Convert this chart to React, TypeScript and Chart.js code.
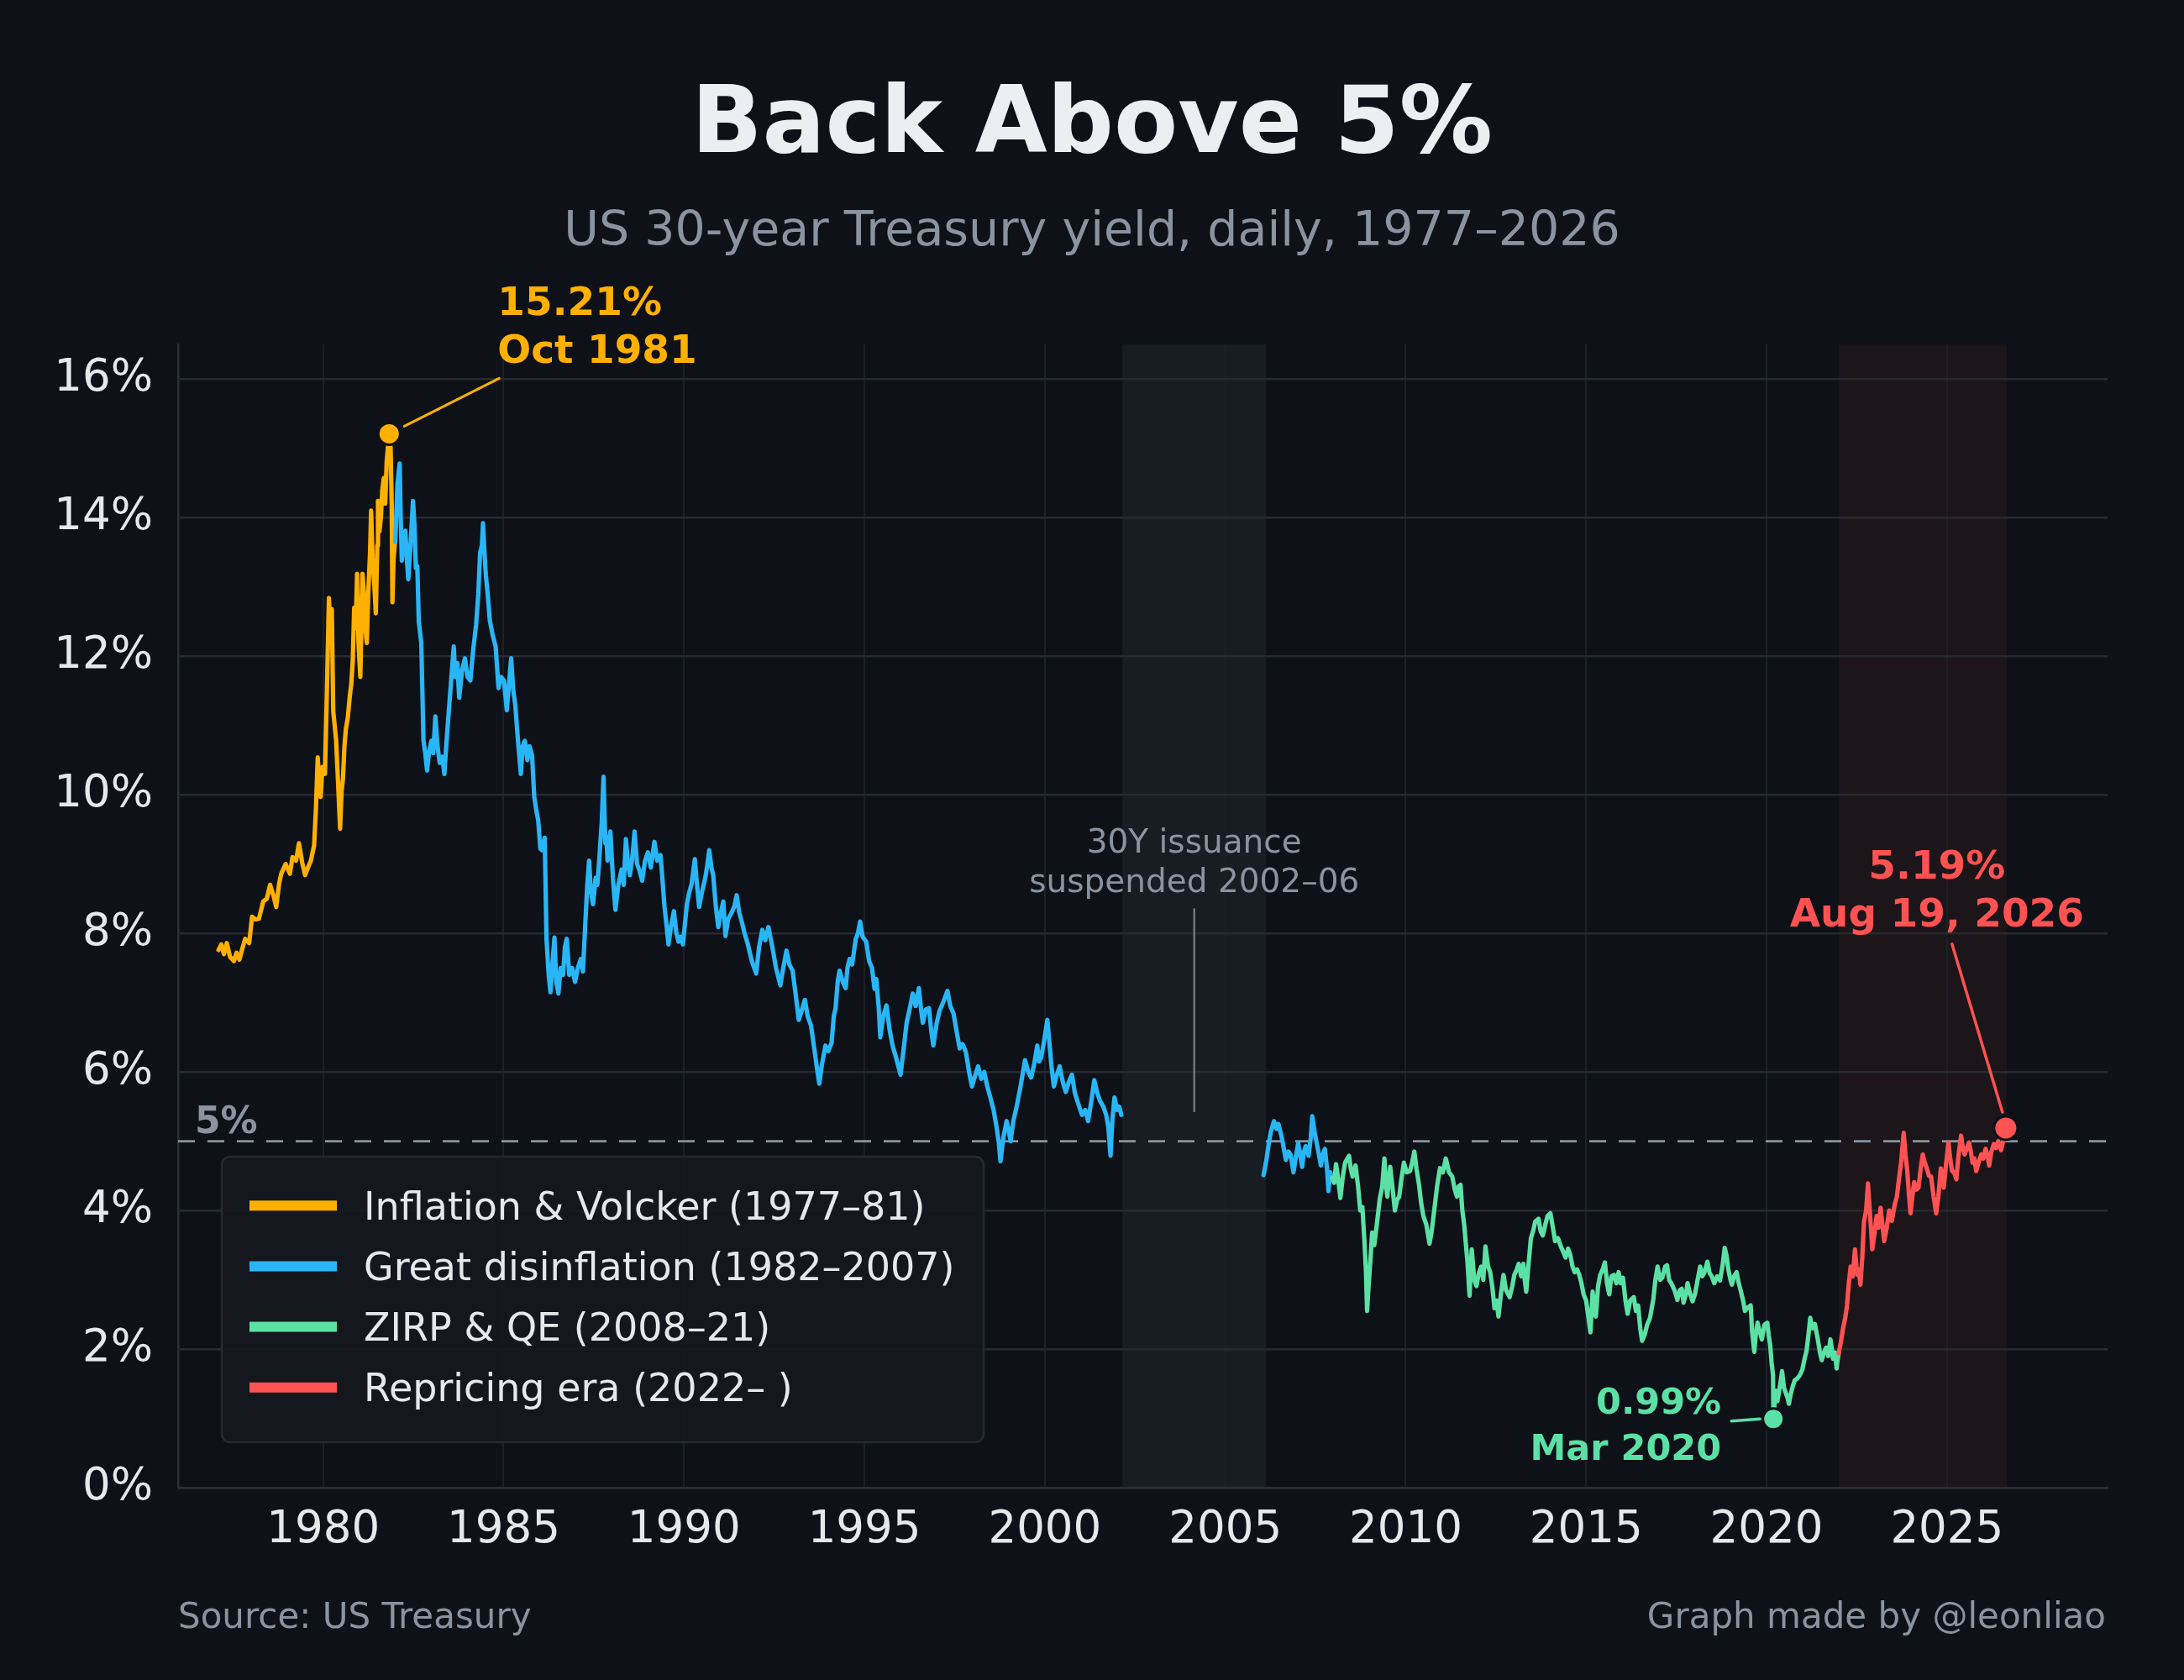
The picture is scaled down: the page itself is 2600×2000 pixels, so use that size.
import React, { useEffect, useRef } from 'react';
import { Chart, registerables } from 'chart.js';

Chart.register(...registerables);

type Pt = [number, number];

// ---------------- DATA ----------------
const volcker: Pt[] = [
  [1977.10, 7.76], [1977.18, 7.84], [1977.25, 7.70], [1977.33, 7.86], [1977.42, 7.66], [1977.53, 7.60],
  [1977.60, 7.72], [1977.68, 7.62], [1977.76, 7.78], [1977.84, 7.92], [1977.95, 7.86], [1978.03, 8.24],
  [1978.12, 8.20], [1978.22, 8.21], [1978.34, 8.46], [1978.44, 8.50], [1978.53, 8.70], [1978.62, 8.55],
  [1978.70, 8.38], [1978.78, 8.72], [1978.84, 8.86], [1978.96, 9.00], [1979.08, 8.86], [1979.15, 9.10],
  [1979.25, 9.05], [1979.33, 9.30], [1979.42, 9.02], [1979.50, 8.84], [1979.58, 8.95], [1979.66, 9.05],
  [1979.75, 9.27], [1979.80, 9.80], [1979.85, 10.54], [1979.90, 10.10], [1979.93, 9.97], [1979.98, 10.40],
  [1980.05, 10.30], [1980.10, 11.40], [1980.16, 12.84], [1980.20, 12.30], [1980.24, 12.68], [1980.28, 11.20],
  [1980.32, 11.00], [1980.36, 10.78], [1980.42, 10.10], [1980.47, 9.51], [1980.51, 10.05], [1980.55, 10.24],
  [1980.59, 10.70], [1980.63, 10.95], [1980.68, 11.10], [1980.74, 11.43], [1980.78, 11.60], [1980.82, 11.92],
  [1980.86, 12.70], [1980.90, 12.40], [1980.94, 13.19], [1980.98, 12.20], [1981.03, 11.70], [1981.06, 12.40],
  [1981.09, 13.19], [1981.13, 12.90], [1981.17, 12.40], [1981.21, 12.19], [1981.25, 12.90], [1981.30, 13.50],
  [1981.33, 14.10], [1981.37, 13.40], [1981.42, 13.00], [1981.46, 12.62], [1981.50, 13.60], [1981.52, 14.24],
  [1981.56, 13.80], [1981.60, 14.00], [1981.64, 14.40], [1981.68, 14.57], [1981.72, 14.20], [1981.76, 14.80],
  [1981.80, 15.05], [1981.83, 15.21], [1981.87, 15.00], [1981.90, 14.20], [1981.92, 12.78], [1981.95, 13.40],
  [1981.99, 13.65],
];

const disinflationEarly: Pt[] = [
  [1982.00, 13.65], [1982.06, 14.49], [1982.12, 14.78], [1982.15, 14.00], [1982.18, 13.38], [1982.23, 13.70],
  [1982.28, 13.81], [1982.32, 13.40], [1982.36, 13.11], [1982.42, 13.60], [1982.49, 14.24], [1982.53, 13.90],
  [1982.57, 13.27], [1982.61, 13.30], [1982.65, 12.51], [1982.72, 12.19], [1982.75, 11.50], [1982.78, 10.78],
  [1982.83, 10.60], [1982.88, 10.35], [1982.93, 10.60], [1983.00, 10.78], [1983.05, 10.60], [1983.11, 11.13],
  [1983.17, 10.70], [1983.23, 10.46], [1983.30, 10.55], [1983.36, 10.30], [1983.41, 10.70], [1983.46, 11.05],
  [1983.54, 11.60], [1983.62, 12.14], [1983.66, 11.70], [1983.72, 11.90], [1983.77, 11.40], [1983.85, 11.80],
  [1983.93, 11.97], [1984.00, 11.70], [1984.08, 11.65], [1984.16, 12.10], [1984.24, 12.46], [1984.30, 12.90],
  [1984.35, 13.49], [1984.40, 13.60], [1984.43, 13.92], [1984.47, 13.50], [1984.51, 13.16], [1984.56, 12.90],
  [1984.62, 12.51], [1984.70, 12.30], [1984.78, 12.14], [1984.86, 11.54], [1984.93, 11.70], [1985.01, 11.65],
  [1985.09, 11.22], [1985.15, 11.60], [1985.21, 11.97], [1985.27, 11.50], [1985.32, 11.32], [1985.40, 10.78],
  [1985.48, 10.30], [1985.53, 10.70], [1985.59, 10.78], [1985.66, 10.50], [1985.72, 10.70], [1985.79, 10.57],
  [1985.85, 9.97], [1985.90, 9.80], [1985.96, 9.63], [1986.02, 9.22], [1986.07, 9.20], [1986.14, 9.38],
  [1986.19, 7.92], [1986.25, 7.40], [1986.30, 7.15], [1986.36, 7.60], [1986.41, 7.94], [1986.46, 7.30],
  [1986.52, 7.13], [1986.58, 7.50], [1986.65, 7.40], [1986.70, 7.80], [1986.75, 7.92], [1986.82, 7.40],
  [1986.90, 7.50], [1986.98, 7.30], [1987.06, 7.50], [1987.14, 7.63], [1987.20, 7.45], [1987.26, 8.09],
  [1987.32, 8.70], [1987.37, 9.05], [1987.42, 8.60], [1987.48, 8.42], [1987.55, 8.80], [1987.60, 8.70],
  [1987.65, 9.05], [1987.72, 9.60], [1987.77, 10.26], [1987.82, 9.30], [1987.85, 9.40], [1987.88, 9.05],
  [1987.96, 9.47], [1988.03, 8.80], [1988.10, 8.34], [1988.18, 8.70], [1988.27, 8.92], [1988.33, 8.70],
  [1988.39, 9.36], [1988.45, 9.00], [1988.50, 8.84], [1988.57, 9.10], [1988.63, 9.47], [1988.70, 9.00],
  [1988.77, 8.90], [1988.84, 8.76], [1988.92, 9.05], [1989.00, 9.17], [1989.08, 8.95], [1989.18, 9.32],
  [1989.26, 9.05], [1989.35, 9.13], [1989.40, 8.80], [1989.46, 8.38], [1989.52, 8.10], [1989.57, 7.84],
  [1989.64, 8.10], [1989.72, 8.32], [1989.79, 8.00], [1989.85, 7.88], [1989.91, 7.95], [1989.97, 7.84],
  [1990.08, 8.42], [1990.15, 8.60], [1990.21, 8.71], [1990.30, 9.07], [1990.36, 8.70], [1990.42, 8.38],
  [1990.50, 8.60], [1990.59, 8.80], [1990.65, 9.00], [1990.70, 9.20], [1990.76, 8.95], [1990.81, 8.84],
  [1990.88, 8.40], [1990.95, 8.09], [1991.02, 8.30], [1991.09, 8.46], [1991.15, 7.96], [1991.22, 8.20],
  [1991.32, 8.30], [1991.40, 8.40], [1991.46, 8.55], [1991.53, 8.30], [1991.60, 8.17], [1991.68, 8.00],
  [1991.77, 7.84], [1991.88, 7.60], [1992.00, 7.42], [1992.08, 7.80], [1992.17, 8.05], [1992.25, 7.90],
  [1992.34, 8.09], [1992.45, 7.80], [1992.55, 7.50], [1992.67, 7.25], [1992.75, 7.50], [1992.84, 7.75],
  [1992.92, 7.55], [1993.01, 7.46], [1993.10, 7.10], [1993.18, 6.75], [1993.27, 6.90], [1993.35, 7.04],
  [1993.43, 6.80], [1993.52, 6.67], [1993.62, 6.30], [1993.70, 6.00], [1993.75, 5.83], [1993.82, 6.10],
  [1993.92, 6.38], [1994.00, 6.30], [1994.09, 6.42], [1994.15, 6.80], [1994.20, 6.92], [1994.26, 7.30],
  [1994.31, 7.46], [1994.40, 7.30], [1994.48, 7.21], [1994.53, 7.50], [1994.59, 7.63], [1994.66, 7.55],
  [1994.76, 7.92], [1994.82, 8.00], [1994.88, 8.17], [1994.95, 7.95], [1995.05, 7.88], [1995.13, 7.60],
  [1995.21, 7.50], [1995.28, 7.20], [1995.33, 7.34], [1995.40, 6.90], [1995.44, 6.50], [1995.52, 6.80],
  [1995.61, 6.96], [1995.70, 6.60], [1995.78, 6.38], [1995.88, 6.20], [1996.00, 5.96], [1996.08, 6.30],
  [1996.17, 6.71], [1996.25, 6.90], [1996.34, 7.13], [1996.42, 6.95], [1996.51, 7.21], [1996.57, 6.90],
  [1996.62, 6.71], [1996.70, 6.90], [1996.79, 6.92], [1996.85, 6.60], [1996.91, 6.38], [1997.00, 6.70],
  [1997.08, 6.88], [1997.18, 7.00], [1997.30, 7.17], [1997.38, 6.95], [1997.47, 6.84], [1997.55, 6.60],
  [1997.64, 6.34], [1997.72, 6.40], [1997.81, 6.29], [1997.90, 6.00], [1997.98, 5.79], [1998.07, 5.95],
  [1998.15, 6.08], [1998.24, 5.90], [1998.32, 6.00], [1998.40, 5.80], [1998.49, 5.63], [1998.58, 5.45],
  [1998.66, 5.21], [1998.72, 5.00], [1998.77, 4.71], [1998.85, 5.05], [1998.94, 5.29], [1999.00, 5.15],
  [1999.05, 5.00], [1999.13, 5.30], [1999.22, 5.50], [1999.33, 5.80], [1999.45, 6.17], [1999.54, 6.00],
  [1999.62, 5.92], [1999.70, 6.10], [1999.79, 6.38], [1999.84, 6.15], [1999.90, 6.21], [1999.98, 6.45],
  [2000.07, 6.75], [2000.13, 6.40], [2000.18, 6.10], [2000.25, 5.79], [2000.33, 5.95], [2000.41, 6.08],
  [2000.50, 5.85], [2000.58, 5.71], [2000.66, 5.85], [2000.75, 5.96], [2000.83, 5.70], [2000.92, 5.55],
  [2001.03, 5.38], [2001.12, 5.45], [2001.20, 5.29], [2001.28, 5.55], [2001.37, 5.88], [2001.45, 5.70],
  [2001.53, 5.58], [2001.62, 5.50], [2001.70, 5.38], [2001.76, 5.20], [2001.82, 4.79], [2001.87, 5.30],
  [2001.93, 5.63], [2002.00, 5.45], [2002.06, 5.50], [2002.12, 5.38],
];

const disinflationLate: Pt[] = [
  [2006.06, 4.51], [2006.10, 4.62], [2006.14, 4.73], [2006.20, 4.95], [2006.26, 5.13], [2006.35, 5.29],
  [2006.42, 5.18], [2006.47, 5.25], [2006.56, 5.07], [2006.62, 4.90], [2006.68, 4.73], [2006.75, 4.85],
  [2006.81, 4.81], [2006.89, 4.55], [2006.95, 4.75], [2007.02, 4.97], [2007.08, 4.80], [2007.13, 4.63],
  [2007.18, 4.85], [2007.23, 4.93], [2007.31, 4.79], [2007.37, 5.05], [2007.41, 5.36], [2007.47, 5.15],
  [2007.52, 5.01], [2007.58, 4.85], [2007.65, 4.65], [2007.70, 4.80], [2007.76, 4.89], [2007.82, 4.60],
  [2007.86, 4.28], [2007.91, 4.55], [2007.96, 4.47],
];

const zirp: Pt[] = [
  [2007.96, 4.47], [2008.02, 4.40], [2008.07, 4.67], [2008.13, 4.45], [2008.19, 4.18], [2008.26, 4.50],
  [2008.32, 4.69], [2008.43, 4.79], [2008.48, 4.60], [2008.53, 4.49], [2008.61, 4.65], [2008.68, 4.35],
  [2008.74, 4.00], [2008.80, 4.05], [2008.86, 3.52], [2008.90, 3.10], [2008.93, 2.55], [2008.97, 2.90],
  [2009.01, 3.19], [2009.07, 3.68], [2009.13, 3.50], [2009.20, 3.80], [2009.28, 4.16], [2009.35, 4.35],
  [2009.41, 4.75], [2009.45, 4.40], [2009.49, 4.20], [2009.57, 4.63], [2009.64, 4.30], [2009.70, 4.00],
  [2009.76, 4.15], [2009.82, 4.20], [2009.88, 4.45], [2009.95, 4.69], [2010.03, 4.55], [2010.12, 4.57],
  [2010.18, 4.70], [2010.24, 4.85], [2010.30, 4.60], [2010.37, 4.37], [2010.43, 4.10], [2010.49, 3.92],
  [2010.57, 3.80], [2010.66, 3.52], [2010.72, 3.70], [2010.79, 4.00], [2010.87, 4.35], [2010.95, 4.61],
  [2011.03, 4.55], [2011.11, 4.75], [2011.20, 4.55], [2011.29, 4.49], [2011.36, 4.30], [2011.42, 4.20],
  [2011.47, 4.35], [2011.52, 4.37], [2011.57, 4.00], [2011.62, 3.80], [2011.67, 3.50], [2011.71, 3.27],
  [2011.77, 2.77], [2011.80, 3.10], [2011.83, 3.44], [2011.90, 3.00], [2011.96, 2.91], [2012.03, 3.10],
  [2012.09, 3.19], [2012.15, 3.00], [2012.21, 3.48], [2012.28, 3.20], [2012.34, 3.11], [2012.40, 2.90],
  [2012.46, 2.59], [2012.52, 2.70], [2012.57, 2.47], [2012.64, 2.80], [2012.71, 3.07], [2012.78, 2.85],
  [2012.88, 2.75], [2012.95, 2.90], [2013.01, 3.07], [2013.08, 3.15], [2013.13, 3.23], [2013.20, 3.05],
  [2013.26, 3.23], [2013.30, 3.00], [2013.34, 2.83], [2013.40, 3.20], [2013.47, 3.60], [2013.53, 3.70],
  [2013.59, 3.84], [2013.68, 3.88], [2013.74, 3.70], [2013.80, 3.64], [2013.87, 3.80], [2013.93, 3.92],
  [2014.01, 3.96], [2014.08, 3.75], [2014.14, 3.56], [2014.22, 3.60], [2014.30, 3.48], [2014.37, 3.40],
  [2014.43, 3.32], [2014.50, 3.45], [2014.56, 3.36], [2014.62, 3.20], [2014.68, 3.11], [2014.75, 3.15],
  [2014.81, 3.07], [2014.87, 2.95], [2014.93, 2.79], [2015.00, 2.70], [2015.06, 2.47], [2015.12, 2.24],
  [2015.18, 2.83], [2015.23, 2.55], [2015.27, 2.47], [2015.33, 2.90], [2015.39, 3.07], [2015.46, 3.15],
  [2015.52, 3.25], [2015.58, 2.95], [2015.64, 2.79], [2015.70, 3.05], [2015.77, 3.07], [2015.84, 2.95],
  [2015.90, 3.11], [2015.96, 2.95], [2016.02, 3.03], [2016.09, 2.70], [2016.15, 2.51], [2016.22, 2.70],
  [2016.32, 2.75], [2016.38, 2.55], [2016.44, 2.63], [2016.50, 2.30], [2016.55, 2.12], [2016.62, 2.20],
  [2016.69, 2.35], [2016.77, 2.45], [2016.86, 2.71], [2016.92, 3.00], [2016.98, 3.19], [2017.05, 3.00],
  [2017.11, 3.03], [2017.19, 3.19], [2017.24, 3.21], [2017.30, 3.00], [2017.36, 2.95], [2017.45, 2.85],
  [2017.53, 2.71], [2017.60, 2.85], [2017.65, 2.87], [2017.70, 2.67], [2017.77, 2.80], [2017.81, 2.95],
  [2017.88, 2.80], [2017.95, 2.69], [2018.02, 2.80], [2018.09, 3.00], [2018.16, 3.19], [2018.22, 3.05],
  [2018.28, 3.11], [2018.36, 3.26], [2018.42, 3.10], [2018.48, 3.05], [2018.55, 2.95], [2018.63, 3.05],
  [2018.71, 2.99], [2018.78, 3.20], [2018.84, 3.46], [2018.89, 3.35], [2018.94, 3.15], [2019.00, 3.00],
  [2019.04, 2.93], [2019.10, 3.05], [2019.17, 3.11], [2019.23, 2.95], [2019.29, 2.83], [2019.35, 2.70],
  [2019.40, 2.55], [2019.48, 2.60], [2019.56, 2.63], [2019.60, 2.25], [2019.66, 1.96], [2019.70, 2.20],
  [2019.75, 2.38], [2019.81, 2.25], [2019.87, 2.14], [2019.94, 2.35], [2020.02, 2.38], [2020.06, 2.20],
  [2020.10, 2.06], [2020.14, 1.80], [2020.18, 1.62], [2020.19, 0.99], [2020.22, 1.19], [2020.26, 1.40],
  [2020.30, 1.25], [2020.33, 1.33], [2020.38, 1.50], [2020.43, 1.68], [2020.48, 1.45], [2020.53, 1.37],
  [2020.58, 1.30], [2020.62, 1.21], [2020.67, 1.35], [2020.72, 1.45], [2020.78, 1.55], [2020.84, 1.57],
  [2020.92, 1.62], [2020.99, 1.70], [2021.05, 1.85], [2021.11, 1.98], [2021.16, 2.20], [2021.21, 2.45],
  [2021.27, 2.30], [2021.34, 2.36], [2021.38, 2.25], [2021.42, 2.14], [2021.48, 1.95], [2021.53, 1.84],
  [2021.59, 1.95], [2021.65, 2.02], [2021.71, 1.90], [2021.77, 2.14], [2021.81, 2.00], [2021.84, 1.86],
  [2021.90, 1.95], [2021.94, 1.72], [2021.97, 1.85], [2022.00, 1.94],
];

const repricing: Pt[] = [
  [2022.00, 1.94], [2022.06, 2.10], [2022.12, 2.30], [2022.18, 2.45], [2022.23, 2.63], [2022.28, 2.95],
  [2022.33, 3.19], [2022.39, 3.05], [2022.45, 3.44], [2022.49, 3.20], [2022.52, 3.07], [2022.56, 3.15],
  [2022.60, 2.93], [2022.65, 3.30], [2022.70, 3.84], [2022.76, 4.00], [2022.81, 4.39], [2022.86, 4.00],
  [2022.90, 3.70], [2022.93, 3.44], [2023.00, 3.70], [2023.05, 3.92], [2023.10, 3.75], [2023.16, 4.04],
  [2023.21, 3.80], [2023.26, 3.56], [2023.33, 3.75], [2023.40, 4.00], [2023.47, 3.85], [2023.55, 4.08],
  [2023.61, 4.20], [2023.67, 4.45], [2023.73, 4.70], [2023.80, 5.12], [2023.85, 4.80], [2023.90, 4.57],
  [2023.95, 4.20], [2023.99, 3.96], [2024.04, 4.20], [2024.09, 4.41], [2024.15, 4.30], [2024.21, 4.33],
  [2024.27, 4.60], [2024.33, 4.81], [2024.38, 4.70], [2024.44, 4.61], [2024.50, 4.50], [2024.56, 4.49],
  [2024.63, 4.20], [2024.70, 3.96], [2024.76, 4.20], [2024.83, 4.61], [2024.87, 4.45], [2024.91, 4.33],
  [2024.97, 4.65], [2025.04, 4.98], [2025.09, 4.75], [2025.14, 4.57], [2025.20, 4.55], [2025.26, 4.45],
  [2025.32, 4.80], [2025.39, 5.08], [2025.44, 4.90], [2025.49, 4.81], [2025.55, 4.90], [2025.61, 4.98],
  [2025.66, 4.85], [2025.71, 4.69], [2025.76, 4.75], [2025.81, 4.57], [2025.88, 4.70], [2025.95, 4.81],
  [2026.01, 4.75], [2026.07, 4.89], [2026.12, 4.80], [2026.17, 4.65], [2026.23, 4.85], [2026.30, 4.96],
  [2026.36, 4.90], [2026.42, 5.00], [2026.47, 4.92], [2026.50, 4.87], [2026.56, 5.02], [2026.63, 5.19],
];

const eraLabels = [
  'Inflation & Volcker (1977–81)',
  'Great disinflation (1982–2007)',
  'ZIRP & QE (2008–21)',
  'Repricing era (2022– )',
];
const eraColors = ['#FFB000', '#29B6F6', '#5BE1A5', '#FF5252'];

const xTickYears = [1980, 1985, 1990, 1995, 2000, 2005, 2010, 2015, 2020, 2025];
const yTickValues = [0, 2, 4, 6, 8, 10, 12, 14, 16];
const X_MIN = 1975.98;
const X_MAX = 2029.45;
const Y_MIN = 0;
const Y_MAX = 16.5;
const THRESHOLD = 5;
const gapBand = [2002.15, 2006.13];
const repricingBand = [2022.0, 2026.66];
const peakPoint = { x: 1981.83, y: 15.21, value: '15.21%', date: 'Oct 1981' };
const troughPoint = { x: 2020.19, y: 0.99, value: '0.99%', date: 'Mar 2020' };
const latestPoint = { x: 2026.63, y: 5.19, value: '5.19%', date: 'Aug 19, 2026' };
const gapNote = { x: 2004.14, yFrom: 5.42, yTo: 8.36, lines: ['30Y issuance', 'suspended 2002–06'] };

const TITLE = 'Back Above 5%';
const SUBTITLE = 'US 30-year Treasury yield, daily, 1977–2026';
const SOURCE = 'Source: US Treasury';
const CREDIT = 'Graph made by @leonliao';

// ---------------- STYLE ----------------
const BG = '#0e1117';
const FONT = '"DejaVu Sans", sans-serif';
const TEXT = '#e6e8eb';
const MUTED = '#8b93a1';
const GRID_H = '#262a31';
const GRID_V = '#1b1f26';
const SPINE = '#2b3038';

const toXY = (pts: Pt[]) => pts.map(([x, y]) => ({ x, y }));

function text(ctx: CanvasRenderingContext2D, s: string, x: number, y: number, font: string, color: string, align: CanvasTextAlign) {
  ctx.font = font;
  ctx.fillStyle = color;
  ctx.textAlign = align;
  ctx.textBaseline = 'alphabetic';
  ctx.fillText(s, x, y);
}

function line(ctx: CanvasRenderingContext2D, x0: number, y0: number, x1: number, y1: number, color: string, w: number) {
  ctx.beginPath();
  ctx.moveTo(x0, y0);
  ctx.lineTo(x1, y1);
  ctx.strokeStyle = color;
  ctx.lineWidth = w;
  ctx.lineCap = 'round';
  ctx.stroke();
}

const decorPlugin = {
  id: 'decor',
  beforeDraw(chart: any) {
    const { ctx, chartArea: a, scales } = chart;
    const xs = scales.x;
    ctx.save();
    ctx.fillStyle = BG;
    ctx.fillRect(0, 0, chart.width, chart.height);
    const g0 = xs.getPixelForValue(gapBand[0]);
    const g1 = xs.getPixelForValue(gapBand[1]);
    ctx.fillStyle = 'rgba(200,215,255,0.055)';
    ctx.fillRect(g0, a.top, g1 - g0, a.bottom - a.top);
    const r0 = xs.getPixelForValue(repricingBand[0]);
    const r1 = xs.getPixelForValue(repricingBand[1]);
    ctx.fillStyle = 'rgba(255,82,82,0.06)';
    ctx.fillRect(r0, a.top, r1 - r0, a.bottom - a.top);
    ctx.restore();
  },
  afterDatasetsDraw(chart: any) {
    const { ctx, chartArea: a, scales } = chart;
    const xs = scales.x;
    const ys = scales.y;
    ctx.save();

    // threshold label
    text(ctx, '5%', a.left + 20, ys.getPixelForValue(THRESHOLD) - 10, `bold 44px ${FONT}`, MUTED, 'left');

    // gap note
    const gx = xs.getPixelForValue(gapNote.x);
    const gTop = ys.getPixelForValue(gapNote.yTo);
    text(ctx, gapNote.lines[0], gx, gTop - 66, `39px ${FONT}`, MUTED, 'center');
    text(ctx, gapNote.lines[1], gx, gTop - 19.5, `39px ${FONT}`, MUTED, 'center');

    // peak callout
    const px = xs.getPixelForValue(peakPoint.x);
    const py = ys.getPixelForValue(peakPoint.y);
    line(ctx, px + 18, py - 9, px + 131, py - 66, eraColors[0], 3);
    text(ctx, peakPoint.value, px + 129, py - 141, `bold 47px ${FONT}`, eraColors[0], 'left');
    text(ctx, peakPoint.date, px + 129, py - 84, `bold 47px ${FONT}`, eraColors[0], 'left');

    // trough callout
    const tx = xs.getPixelForValue(troughPoint.x);
    const ty = ys.getPixelForValue(troughPoint.y);
    line(ctx, tx - 16, ty, tx - 50, ty + 2.4, eraColors[2], 3.5);
    text(ctx, troughPoint.value, tx - 62, ty - 6, `bold 43px ${FONT}`, eraColors[2], 'right');
    text(ctx, troughPoint.date, tx - 62, ty + 49, `bold 43px ${FONT}`, eraColors[2], 'right');

    // latest callout
    const lx = xs.getPixelForValue(latestPoint.x);
    const ly = ys.getPixelForValue(latestPoint.y);
    line(ctx, lx - 4, ly - 19, lx - 64, ly - 219, eraColors[3], 3.5);
    text(ctx, latestPoint.value, lx - 82, ly - 297, `bold 47px ${FONT}`, eraColors[3], 'center');
    text(ctx, latestPoint.date, lx - 82, ly - 239.5, `bold 47px ${FONT}`, eraColors[3], 'center');

    // legend
    const bx = 264, by = 1377, bw = 907, bh = 340;
    ctx.beginPath();
    ctx.roundRect(bx, by, bw, bh, 10);
    ctx.fillStyle = 'rgba(21,25,31,0.95)';
    ctx.fill();
    ctx.strokeStyle = '#252a32';
    ctx.lineWidth = 2.5;
    ctx.stroke();
    eraLabels.forEach((lab, i) => {
      const base = 1451.7 + i * 72.2;
      ctx.beginPath();
      ctx.moveTo(297, base - 16.5);
      ctx.lineTo(401, base - 16.5);
      ctx.strokeStyle = eraColors[i];
      ctx.lineWidth = 12;
      ctx.lineCap = 'butt';
      ctx.stroke();
      text(ctx, lab, 433, base, `46px ${FONT}`, TEXT, 'left');
    });
    ctx.restore();
  },
  afterDraw(chart: any) {
    const { ctx, chartArea: a } = chart;
    ctx.save();
    text(ctx, TITLE, 1300, 181, `bold 111px ${FONT}`, '#eceff2', 'center');
    text(ctx, SUBTITLE, 1300, 292, `57px ${FONT}`, MUTED, 'center');
    text(ctx, SOURCE, a.left, 1938, `42px ${FONT}`, MUTED, 'left');
    text(ctx, CREDIT, a.right - 2, 1938, `42px ${FONT}`, MUTED, 'right');
    ctx.restore();
  },
};

export default function App() {
  const ref = useRef<HTMLCanvasElement>(null);

  useEffect(() => {
    const canvas = ref.current;
    if (!canvas) return;
    const lineDs = (label: string, data: any[], color: string, order: number) => ({
      label,
      data,
      borderColor: color,
      backgroundColor: color,
      borderWidth: 5.2,
      pointRadius: 0,
      pointHoverRadius: 0,
      tension: 0,
      spanGaps: false,
      fill: false,
      borderJoinStyle: 'round',
      borderCapStyle: 'round',
      order,
    });
    const markerDs = (p: { x: number; y: number }, color: string, r: number) => ({
      data: [{ x: p.x, y: p.y }],
      showLine: false,
      pointRadius: r,
      pointHoverRadius: r,
      pointBorderWidth: 3,
      pointBackgroundColor: color,
      pointBorderColor: BG,
      order: 0,
    });

    const chart = new Chart(canvas, {
      type: 'line',
      data: {
        datasets: [
          markerDs(peakPoint, eraColors[0], 13),
          markerDs(troughPoint, eraColors[2], 12.5),
          markerDs(latestPoint, eraColors[3], 14),
          lineDs(eraLabels[3], toXY(repricing), eraColors[3], 1),
          lineDs(eraLabels[2], toXY(zirp), eraColors[2], 2),
          lineDs(eraLabels[1], [...toXY(disinflationEarly), { x: gapNote.x, y: null }, ...toXY(disinflationLate)], eraColors[1], 3),
          lineDs(eraLabels[0], toXY(volcker), eraColors[0], 4),
          {
            data: [{ x: X_MIN, y: THRESHOLD }, { x: X_MAX, y: THRESHOLD }],
            borderColor: MUTED,
            borderWidth: 2.8,
            borderDash: [20, 15],
            pointRadius: 0,
            pointHoverRadius: 0,
            order: 6,
          },
          {
            data: [{ x: gapNote.x, y: gapNote.yFrom }, { x: gapNote.x, y: gapNote.yTo }],
            borderColor: 'rgba(139,147,161,0.75)',
            borderWidth: 2.5,
            pointRadius: 0,
            pointHoverRadius: 0,
            order: 6,
          },
        ] as any,
      },
      options: {
        responsive: false,
        maintainAspectRatio: false,
        devicePixelRatio: 1,
        animation: false,
        events: [],
        layout: { padding: { top: 410, right: 91, bottom: 0, left: 0 } },
        plugins: {
          legend: { display: false },
          tooltip: { enabled: false },
          title: { display: false },
        },
        scales: {
          x: {
            type: 'linear',
            min: X_MIN,
            max: X_MAX,
            afterBuildTicks: (scale: any) => {
              scale.ticks = xTickYears.map((v) => ({ value: v }));
            },
            afterFit: (scale: any) => {
              scale.height = 229;
            },
            ticks: {
              color: TEXT,
              font: { family: FONT, size: 53 },
              padding: 19,
              maxRotation: 0,
              autoSkip: false,
              callback: (v: any) => String(v),
            },
            grid: { color: GRID_V, lineWidth: 2, drawTicks: false },
            border: { display: true, color: SPINE, width: 2.5 },
          },
          y: {
            type: 'linear',
            min: Y_MIN,
            max: Y_MAX,
            afterBuildTicks: (scale: any) => {
              scale.ticks = yTickValues.map((v) => ({ value: v }));
            },
            afterFit: (scale: any) => {
              scale.width = 212;
            },
            ticks: {
              color: TEXT,
              font: { family: FONT, size: 53 },
              padding: 30,
              autoSkip: false,
              callback: (v: any) => `${v}%`,
            },
            grid: { color: GRID_H, lineWidth: 2.5, drawTicks: false },
            border: { display: true, color: SPINE, width: 2.5 },
          },
        },
      } as any,
      plugins: [decorPlugin],
    });
    return () => chart.destroy();
  }, []);

  return (
    <div style={{ position: 'absolute', left: 0, top: 0, width: 2600, height: 2000, background: BG }}>
      <canvas ref={ref} width={2600} height={2000} style={{ display: 'block', width: '2600px', height: '2000px' }} />
    </div>
  );
}
